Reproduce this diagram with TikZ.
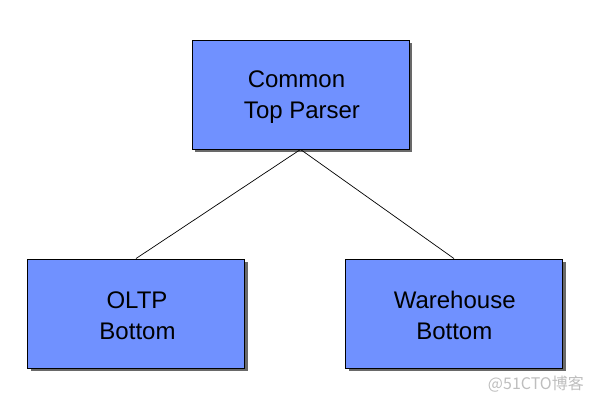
\documentclass[tikz,border=0pt]{standalone}
\usepackage{fontspec}
\setmainfont{Liberation Sans}
\newfontfamily\cjkfont{Noto Sans CJK SC}
\definecolor{boxblue}{RGB}{112,145,255}
\definecolor{shadowgray}{RGB}{105,105,105}
\definecolor{wmgray}{RGB}{190,190,190}
\begin{document}
\begin{tikzpicture}[x=1pt,y=-1pt,
  boxnode/.style={draw=black,line width=0.9pt,fill=boxblue,minimum width=217pt,minimum height=109pt,inner sep=0pt},
  shadowbox/.style={fill=shadowgray,draw=none,minimum width=217pt,minimum height=109pt,inner sep=0pt},
  boxtext/.style={anchor=base,inner sep=0pt,font=\fontsize{24}{28}\selectfont},
  link/.style={draw=black,line width=0.7pt}]
\useasboundingbox (0,0) rectangle (595,403);
\node[shadowbox] (tops) at (303.5,97.5) {};
\node[shadowbox] (oltps) at (139,316.5) {};
\node[shadowbox] (whs) at (457,316.5) {};
\node[boxnode] (top) at (300.5,94.5) {};
\node[boxnode] (oltp) at (136,313.5) {};
\node[boxnode] (wh) at (454,313.5) {};
\node[boxtext] (t1) at (296.5,87.7) {Common};
\node[boxtext] (t2) at (302,118.3) {Top Parser};
\node[boxtext] (o1) at (137,308.7) {OLTP};
\node[boxtext] (o2) at (137.5,339.3) {Bottom};
\node[boxtext] (w1) at (454.7,308.7) {Warehouse};
\node[boxtext] (w2) at (454.3,339.3) {Bottom};
\draw[link] (top.south) -- (oltp.north);
\draw[link] (top.south) -- (wh.north);
\node[anchor=base east,text=wmgray,font=\cjkfont\fontsize{16}{18}\selectfont,inner sep=0pt] (wm) at (584,390) {@51CTO博客};
\end{tikzpicture}
\end{document}
